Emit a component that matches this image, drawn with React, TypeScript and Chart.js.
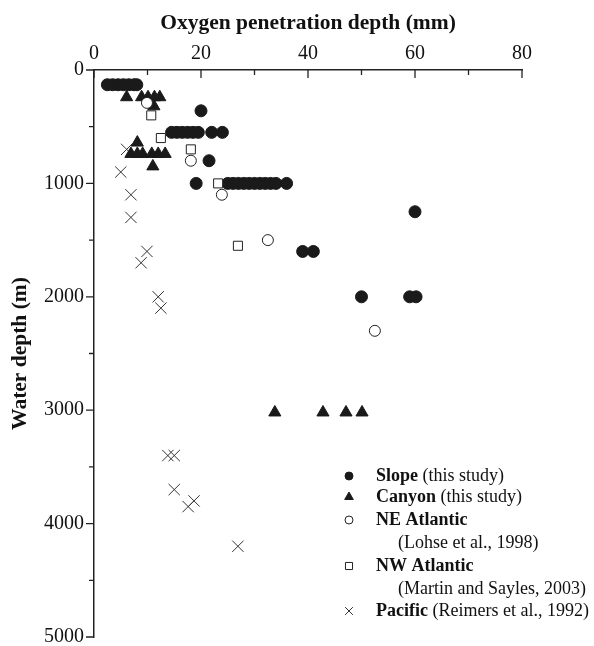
import React, { useEffect, useRef } from "react";
import { Chart, registerables } from "chart.js";
import { drawPoint } from "chart.js/helpers";

Chart.register(...registerables);

// Oxygen penetration depth (mm) and water depth (m) per data set
const slopeOPD = [2.5, 3.5, 4.5, 5.5, 6.5, 7.5, 8, 20, 14.5, 15.5, 16.5, 17.5, 18.5, 19.5, 22, 24, 21.5, 19.1, 25, 26, 27, 28, 29, 30, 31, 32, 33, 34, 36, 60, 39, 41, 50, 59, 60.2];
const slopeDepth = [130, 130, 130, 130, 130, 130, 130, 360, 550, 550, 550, 550, 550, 550, 550, 550, 800, 1000, 1000, 1000, 1000, 1000, 1000, 1000, 1000, 1000, 1000, 1000, 1000, 1250, 1600, 1600, 2000, 2000, 2000];

const canyonOPD = [6.1, 8.9, 10.1, 11.3, 12.3, 11.2, 8.1, 6.9, 8.1, 9.1, 10.8, 12, 13.3, 11, 33.8, 42.8, 47.1, 50.1];
const canyonDepth = [240, 240, 240, 240, 240, 320, 640, 740, 740, 740, 740, 740, 740, 850, 3020, 3020, 3020, 3020];

const neAtlanticOPD = [9.9, 18.1, 23.9, 32.5, 52.5];
const neAtlanticDepth = [290, 800, 1100, 1500, 2300];

const nwAtlanticOPD = [10.7, 12.5, 18.1, 23.2, 26.9];
const nwAtlanticDepth = [400, 600, 700, 1000, 1550];

const pacificOPD = [6.1, 5, 6.9, 6.9, 9.9, 8.8, 12, 12.5, 13.8, 15, 15, 17.6, 18.7, 26.9];
const pacificDepth = [700, 900, 1100, 1300, 1600, 1700, 2000, 2100, 3400, 3400, 3700, 3850, 3800, 4200];

const xMajorTicks = [0, 20, 40, 60, 80];
const xMinorTicks = [10, 30, 50, 70];
const yMajorTicks = [0, 1000, 2000, 3000, 4000, 5000];
const yMinorTicks = [500, 1500, 2500, 3500, 4500];

const xTitle = "Oxygen penetration depth (mm)";
const yTitle = "Water depth (m)";

const legendItems = [
  { bold: "Slope", normal: " (this study)", sub: "" },
  { bold: "Canyon", normal: " (this study)", sub: "" },
  { bold: "NE Atlantic", normal: "", sub: "(Lohse et al., 1998)" },
  { bold: "NW Atlantic", normal: "", sub: "(Martin and Sayles, 2003)" },
  { bold: "Pacific", normal: " (Reimers et al., 1992)", sub: "" },
];

const FONT = "'Liberation Serif', 'Times New Roman', serif";
const INK = "#1a1a1a";

const pts = (xs: number[], ys: number[]) => xs.map((x, i) => ({ x, y: ys[i] }));

const styles = [
  { pointStyle: "circle", radius: 6, bg: INK, border: INK, bw: 1, lr: 4 },
  { pointStyle: "triangle", radius: 7, bg: INK, border: INK, bw: 1, lr: 5 },
  { pointStyle: "circle", radius: 5.5, bg: "#fff", border: "#222", bw: 1, lr: 4 },
  { pointStyle: "rect", radius: 6.4, bg: "#fff", border: "#222", bw: 1, lr: 5 },
  { pointStyle: "crossRot", radius: 8, bg: "#333", border: "#333", bw: 1, lr: 5.5 },
];

const axisTicksPlugin = {
  id: "axisTicks",
  afterDraw(chart: any) {
    const ctx = chart.ctx;
    const xs = chart.scales.x;
    const ys = chart.scales.y;
    const top = chart.chartArea.top;
    const left = chart.chartArea.left;
    ctx.save();
    ctx.strokeStyle = "#222";
    ctx.lineWidth = 1.3;
    ctx.beginPath();
    xMajorTicks.forEach((v) => {
      const p = xs.getPixelForValue(v);
      ctx.moveTo(p, top);
      ctx.lineTo(p, top + 8);
    });
    xMinorTicks.forEach((v) => {
      const p = xs.getPixelForValue(v);
      ctx.moveTo(p, top);
      ctx.lineTo(p, top + 5);
    });
    yMajorTicks.forEach((v) => {
      const p = ys.getPixelForValue(v);
      ctx.moveTo(left - 8, p);
      ctx.lineTo(left, p);
    });
    yMinorTicks.forEach((v) => {
      const p = ys.getPixelForValue(v);
      ctx.moveTo(left - 5, p);
      ctx.lineTo(left, p);
    });
    ctx.stroke();
    ctx.restore();
  },
};

const legendPlugin = {
  id: "customLegend",
  afterDraw(chart: any) {
    const ctx = chart.ctx;
    const markerX = 349;
    const textX = 376;
    const subX = 398;
    const lineYs = [476, 497, 520, 543, 566, 589, 611];
    ctx.save();
    ctx.textBaseline = "middle";
    ctx.fillStyle = "#111";
    let row = 0;
    legendItems.forEach((item, i) => {
      const y = lineYs[row];
      const s = styles[i];
      ctx.save();
      ctx.fillStyle = s.bg;
      ctx.strokeStyle = s.border;
      ctx.lineWidth = s.bw;
      drawPoint(ctx, { pointStyle: s.pointStyle as any, radius: s.lr, rotation: 0, borderWidth: s.bw }, markerX, y);
      ctx.restore();
      ctx.fillStyle = "#111";
      ctx.font = `bold 18px ${FONT}`;
      ctx.fillText(item.bold, textX, y);
      const w = ctx.measureText(item.bold).width;
      if (item.normal) {
        ctx.font = `18px ${FONT}`;
        ctx.fillText(item.normal, textX + w, y);
      }
      row++;
      if (item.sub) {
        ctx.font = `18px ${FONT}`;
        ctx.fillText(item.sub, subX, lineYs[row]);
        row++;
      }
    });
    ctx.restore();
  },
};

export default function App() {
  const ref = useRef<HTMLCanvasElement | null>(null);
  useEffect(() => {
    document.body.style.margin = "0";
    const labels = ["Slope", "Canyon", "NE Atlantic", "NW Atlantic", "Pacific"];
    const series = [
      pts(slopeOPD, slopeDepth),
      pts(canyonOPD, canyonDepth),
      pts(neAtlanticOPD, neAtlanticDepth),
      pts(nwAtlanticOPD, nwAtlanticDepth),
      pts(pacificOPD, pacificDepth),
    ];
    const orders = [3, 4, 1, 0, 5];
    const chart = new Chart(ref.current as HTMLCanvasElement, {
      type: "scatter",
      data: {
        datasets: series.map((d, i) => ({
          label: labels[i],
          data: d,
          order: orders[i],
          pointStyle: styles[i].pointStyle as any,
          pointRadius: styles[i].radius,
          pointHoverRadius: styles[i].radius,
          backgroundColor: styles[i].bg,
          borderColor: styles[i].border,
          borderWidth: styles[i].bw,
          clip: false as any,
        })),
      },
      options: {
        responsive: false,
        animation: false,
        layout: { autoPadding: false, padding: { left: 0, top: 0, right: 72, bottom: 9 } },
        plugins: { legend: { display: false }, tooltip: { enabled: false } },
        scales: {
          x: {
            type: "linear",
            position: "top",
            min: 0,
            max: 80,
            afterBuildTicks: (s: any) => {
              s.ticks = xMajorTicks.map((v) => ({ value: v }));
            },
            afterFit: (s: any) => {
              s.height = 70;
              s.paddingLeft = 0;
              s.paddingRight = 0;
              s.paddingTop = 0;
              s.paddingBottom = 0;
            },
            grid: { display: false, drawTicks: false },
            border: { display: true, color: "#222", width: 1.5 },
            ticks: { color: "#111", font: { family: FONT, size: 20 }, padding: 4, maxRotation: 0, callback: (v: any) => String(v) },
            title: {
              display: true,
              text: xTitle,
              color: "#111",
              font: { family: FONT, size: 21.5, weight: "bold" },
              padding: { top: 11, bottom: 0 },
            },
          },
          y: {
            type: "linear",
            reverse: true,
            min: 0,
            max: 5000,
            afterBuildTicks: (s: any) => {
              s.ticks = yMajorTicks.map((v) => ({ value: v }));
            },
            afterFit: (s: any) => {
              s.width = 94;
              s.paddingLeft = 0;
              s.paddingRight = 0;
              s.paddingTop = 0;
              s.paddingBottom = 0;
            },
            grid: { display: false, drawTicks: false },
            border: { display: true, color: "#222", width: 1.5 },
            ticks: { color: "#111", font: { family: FONT, size: 20 }, padding: 10, callback: (v: any) => String(v) },
            title: {
              display: true,
              text: yTitle,
              color: "#111",
              font: { family: FONT, size: 21.5, weight: "bold" },
              padding: { top: 8, bottom: 0 },
            },
          },
        },
      },
      plugins: [axisTicksPlugin, legendPlugin],
    });
    return () => chart.destroy();
  }, []);
  return <canvas ref={ref} width={594} height={646} style={{ display: "block" }} />;
}
